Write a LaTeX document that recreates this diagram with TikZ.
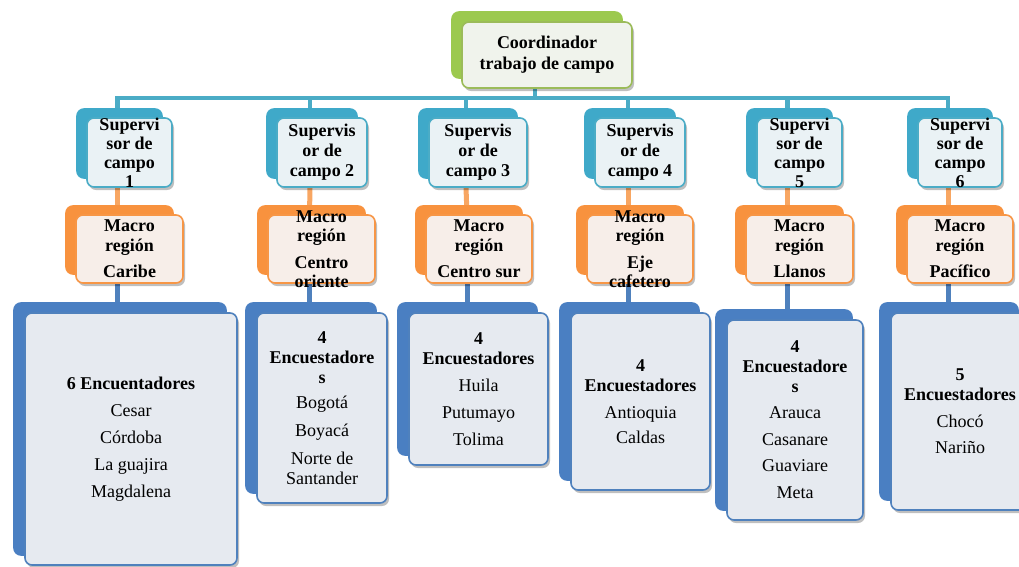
\documentclass[tikz,border=0pt]{standalone}
\usepackage{fontspec}
\setmainfont{Liberation Serif}
\usetikzlibrary{shadows,backgrounds}

\definecolor{greenback}{HTML}{9CC94E}
\definecolor{greenline}{HTML}{9BBB59}
\definecolor{greenfill}{HTML}{F0F3EC}
\definecolor{aquaback}{HTML}{3FA9C9}
\definecolor{aqualine}{HTML}{4BACC6}
\definecolor{aquafill}{HTML}{EAF2F5}
\definecolor{orangeback}{HTML}{F8923E}
\definecolor{orangeline}{HTML}{F79646}
\definecolor{orangefill}{HTML}{F7EEE9}
\definecolor{blueback}{HTML}{4A7FC2}
\definecolor{blueline}{HTML}{4F81BD}
\definecolor{bluefill}{HTML}{E6EAF0}

\tikzset{
  box/.style={rounded corners=7pt, line width=1.6pt, inner sep=0pt,
    drop shadow={shadow xshift=2pt, shadow yshift=-3pt, opacity=.25, fill=black}},
  txt/.style={align=center, inner sep=0pt, font=\fontsize{18}{20}\selectfont},
  coordbox/.style={box, draw=greenline, fill=greenfill,
    copy shadow={shadow xshift=-10pt, shadow yshift=10pt, fill=greenback, draw=greenback},
    minimum width=170pt, minimum height=66pt},
  supbox/.style={box, draw=aqualine, fill=aquafill,
    copy shadow={shadow xshift=-10pt, shadow yshift=9pt, fill=aquaback, draw=aquaback},
    minimum height=69pt},
  macrobox/.style={box, draw=orangeline, fill=orangefill,
    copy shadow={shadow xshift=-10pt, shadow yshift=9pt, fill=orangeback, draw=orangeback},
    minimum height=68pt},
  encbox/.style={box, draw=blueline, fill=bluefill,
    copy shadow={shadow xshift=-11pt, shadow yshift=10pt, fill=blueback, draw=blueback}},
  busline/.style={line width=4.5pt, aqualine},
  supline/.style={line width=5pt, orangeline!85},
  encline/.style={line width=5pt, blueline}
}

\begin{document}
\begin{tikzpicture}[x=1pt, y=-1pt]
  \useasboundingbox (0,0) rectangle (1019,566);

  % Coordinator at the top
  \node[coordbox, label={[txt, font=\fontsize{18}{21}\selectfont\bfseries]center:{Coordinador\\trabajo de campo}}] (coord) at (547,55) {};

  % Supervisors
  \node[supbox, minimum width=85pt, label={[txt, font=\fontsize{18}{19}\selectfont\bfseries]center:{Supervi\\sor de\\campo\\1}}] (sup1) at (129.5,152.5) {};
  \node[supbox, minimum width=90pt, label={[txt, font=\fontsize{18}{20}\selectfont\bfseries]center:{Supervis\\or de\\campo 2}}] (sup2) at (322,152.5) {};
  \node[supbox, minimum width=98pt, label={[txt, font=\fontsize{18}{20}\selectfont\bfseries]center:{Supervis\\or de\\campo 3}}] (sup3) at (478,152.5) {};
  \node[supbox, minimum width=90pt, label={[txt, font=\fontsize{18}{20}\selectfont\bfseries]center:{Supervis\\or de\\campo 4}}] (sup4) at (640,152.5) {};
  \node[supbox, minimum width=85pt, label={[txt, font=\fontsize{18}{19}\selectfont\bfseries]center:{Supervi\\sor de\\campo\\5}}] (sup5) at (799.5,152.5) {};
  \node[supbox, minimum width=84pt, label={[txt, font=\fontsize{18}{19}\selectfont\bfseries]center:{Supervi\\sor de\\campo\\6}}] (sup6) at (960,152.5) {};

  % Macro regions
  \node[macrobox, minimum width=107pt, label={[txt, font=\fontsize{18}{20}\selectfont\bfseries]center:{Macro\\región\\[6pt]Caribe}}] (mac1) at (129.5,249) {};
  \node[macrobox, minimum width=107pt, label={[txt, font=\fontsize{18}{19}\selectfont\bfseries]center:{Macro\\región\\[8pt]Centro\\oriente}}] (mac2) at (321.5,249) {};
  \node[macrobox, minimum width=106pt, label={[txt, font=\fontsize{18}{20}\selectfont\bfseries]center:{Macro\\región\\[6pt]Centro sur}}] (mac3) at (479,249) {};
  \node[macrobox, minimum width=106pt, label={[txt, font=\fontsize{18}{19}\selectfont\bfseries]center:{Macro\\región\\[8pt]Eje\\cafetero}}] (mac4) at (640,249) {};
  \node[macrobox, minimum width=107pt, label={[txt, font=\fontsize{18}{20}\selectfont\bfseries]center:{Macro\\región\\[6pt]Llanos}}] (mac5) at (799.5,249) {};
  \node[macrobox, minimum width=106pt, label={[txt, font=\fontsize{18}{20}\selectfont\bfseries]center:{Macro\\región\\[6pt]Pacífico}}] (mac6) at (960,249) {};

  % Field interviewers
  \node[encbox, minimum width=212pt, minimum height=252pt, label={[txt]center:{\textbf{6 Encuentadores}\\[7pt]Cesar\\[7pt]Córdoba\\[7pt]La guajira\\[7pt]Magdalena}}] (enc1) at (131,439) {};
  \node[encbox, minimum width=130pt, minimum height=190pt, label={[txt]center:{\textbf{4}\\\textbf{Encuestadore}\\\textbf{s}\\[5pt]Bogotá\\[8pt]Boyacá\\[8pt]Norte de\\Santander}}] (enc2) at (322,408) {};
  \node[encbox, minimum width=139pt, minimum height=152pt, label={[txt]center:{\textbf{4}\\\textbf{Encuestadores}\\[7pt]Huila\\[7pt]Putumayo\\[7pt]Tolima}}] (enc3) at (478.5,389) {};
  \node[encbox, minimum width=139pt, minimum height=177pt, label={[txt]center:{\textbf{4}\\\textbf{Encuestadores}\\[7pt]Antioquia\\[5pt]Caldas}}] (enc4) at (640.5,401.5) {};
  \node[encbox, minimum width=136pt, minimum height=200pt, label={[txt]center:{\textbf{4}\\\textbf{Encuestadore}\\\textbf{s}\\[6pt]Arauca\\[7pt]Casanare\\[6pt]Guaviare\\[7pt]Meta}}] (enc5) at (795,420) {};
  \node[encbox, minimum width=138pt, minimum height=197pt, label={[txt]center:{\textbf{5}\\\textbf{Encuestadores}\\[7pt]Chocó\\[6pt]Nariño}}] (enc6) at (960,411.5) {};

  % Connectors behind the boxes
  \begin{scope}[on background layer]
    \draw[busline] ([xshift=-12pt]coord.south) -- ++(0,9) -| ([xshift=-12pt]sup1.north);
    \draw[busline] ([xshift=-12pt]coord.south) -- ++(0,9) -| ([xshift=-12pt]sup2.north);
    \draw[busline] ([xshift=-12pt]coord.south) -- ++(0,9) -| ([xshift=-12pt]sup3.north);
    \draw[busline] ([xshift=-12pt]coord.south) -- ++(0,9) -| ([xshift=-12pt]sup4.north);
    \draw[busline] ([xshift=-12pt]coord.south) -- ++(0,9) -| ([xshift=-12pt]sup5.north);
    \draw[busline] ([xshift=-12pt]coord.south) -- ++(0,9) -| ([xshift=-12pt]sup6.north);

    \draw[supline] ([xshift=-12pt]sup1.south) -- ([xshift=-12pt]mac1.north);
    \draw[supline] ([xshift=-12pt]sup2.south) -- ([xshift=-12pt]mac2.north);
    \draw[supline] ([xshift=-12pt]sup3.south) -- ([xshift=-12pt]mac3.north);
    \draw[supline] ([xshift=-12pt]sup4.south) -- ([xshift=-12pt]mac4.north);
    \draw[supline] ([xshift=-12pt]sup5.south) -- ([xshift=-12pt]mac5.north);
    \draw[supline] ([xshift=-12pt]sup6.south) -- ([xshift=-12pt]mac6.north);

    \draw[encline] ([xshift=-12pt]mac1.south) -- ([xshift=-12pt]mac1.south |- enc1.north);
    \draw[encline] ([xshift=-12pt]mac2.south) -- ([xshift=-12pt]mac2.south |- enc2.north);
    \draw[encline] ([xshift=-12pt]mac3.south) -- ([xshift=-12pt]mac3.south |- enc3.north);
    \draw[encline] ([xshift=-12pt]mac4.south) -- ([xshift=-12pt]mac4.south |- enc4.north);
    \draw[encline] ([xshift=-12pt]mac5.south) -- ([xshift=-12pt]mac5.south |- enc5.north);
    \draw[encline] ([xshift=-12pt]mac6.south) -- ([xshift=-12pt]mac6.south |- enc6.north);
  \end{scope}
\end{tikzpicture}
\end{document}
